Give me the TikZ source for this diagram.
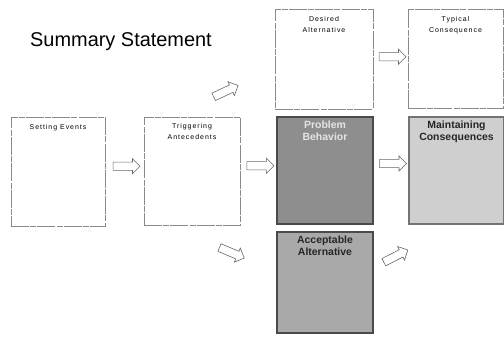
\documentclass[tikz,border=0pt]{standalone}
\usepackage{fontspec}
\setmainfont{Liberation Sans}
\usetikzlibrary{shapes.arrows,calc}
\definecolor{pbfill}{HTML}{8E8E8E}
\definecolor{aafill}{HTML}{A9A9A9}
\definecolor{mcfill}{HTML}{CFCFCF}
\definecolor{wbord}{HTML}{8A8A8A}
\definecolor{gbord}{HTML}{4A4A4A}
\tikzset{
  whitebox/.style={draw=wbord, line width=0.7pt, dash pattern=on 18pt off 1.5pt on 6pt off 1pt, fill=white, inner sep=0pt},
  greybox/.style={draw=gbord, line width=1.2pt, inner sep=0pt},
  smalltxt/.style={font=\fontsize{7}{11}\selectfont\addfontfeature{LetterSpace=14}, align=center, anchor=north, inner sep=0pt, text=black},
  boldtxt/.style={font=\fontsize{10.5}{12.5}\selectfont\bfseries, align=center, anchor=north, inner sep=0pt},
  blockarrow/.style={single arrow, draw=black!60, line width=0.6pt, fill=white,
    minimum height=27bp, minimum width=15bp, inner sep=3.8bp, single arrow head extend=3.5bp}
}
\begin{document}
\begin{tikzpicture}[x=1bp,y=-1bp]
\useasboundingbox (0,0) rectangle (504,336);
% title
\node[font=\fontsize{20}{24}\selectfont, anchor=base west, inner sep=0pt] (title) at (30,46) {Summary Statement};
% boxes
\node[whitebox, minimum width=94bp, minimum height=109bp] (se) at (58,171.5) {};
\node[whitebox, minimum width=96bp, minimum height=108bp] (ta) at (192,171) {};
\node[whitebox, minimum width=98bp, minimum height=100bp] (da) at (324,59) {};
\node[whitebox, minimum width=95bp, minimum height=99bp] (tc) at (455.5,58.5) {};
\node[greybox, fill=pbfill, minimum width=96bp, minimum height=107bp] (pb) at (325,170.5) {};
\node[greybox, fill=mcfill, draw=black!55, minimum width=95bp, minimum height=107bp] (mc) at (456.5,170.5) {};
\node[greybox, fill=aafill, minimum width=96bp, minimum height=101bp] (aa) at (325,282.5) {};
% labels
\node[smalltxt] (seT) at ($(se.north)+(0,8)$) {Setting Events};
\node[smalltxt] (taT) at ($(ta.north)+(0,7)$) {Triggering\\Antecedents};
\node[smalltxt] (daT) at ($(da.north)+(0,8)$) {Desired\\Alternative};
\node[smalltxt] (tcT) at ($(tc.north)+(0,8)$) {Typical\\Consequence};
\node[boldtxt, text=white!90!black] (pbT) at ($(pb.north)+(0,4)$) {Problem\\Behavior};
\node[boldtxt, text=black!85] (mcT) at ($(mc.north)+(0,4)$) {Maintaining\\Consequences};
\node[boldtxt, text=black!85] (aaT) at ($(aa.north)+(0,4)$) {Acceptable\\Alternative};
% block arrows
\node[blockarrow] (a1) at ($(se.east)!0.5!(ta.west)+(0,-5)$) {};
\node[blockarrow] (a2) at ($(ta.east)!0.5!(pb.west)+(0,-5)$) {};
\node[blockarrow] (a3) at ($(pb.east)!0.5!(mc.west)+(0,-7)$) {};
\node[blockarrow] (a4) at ($(da.east)!0.5!(tc.west)+(0,-2)$) {};
\node[blockarrow, rotate=25] (a5) at (224,92) {};
\node[blockarrow, rotate=-23] (a6) at (230,252) {};
\node[blockarrow, rotate=27] (a7) at (394,257) {};
\end{tikzpicture}
\end{document}
